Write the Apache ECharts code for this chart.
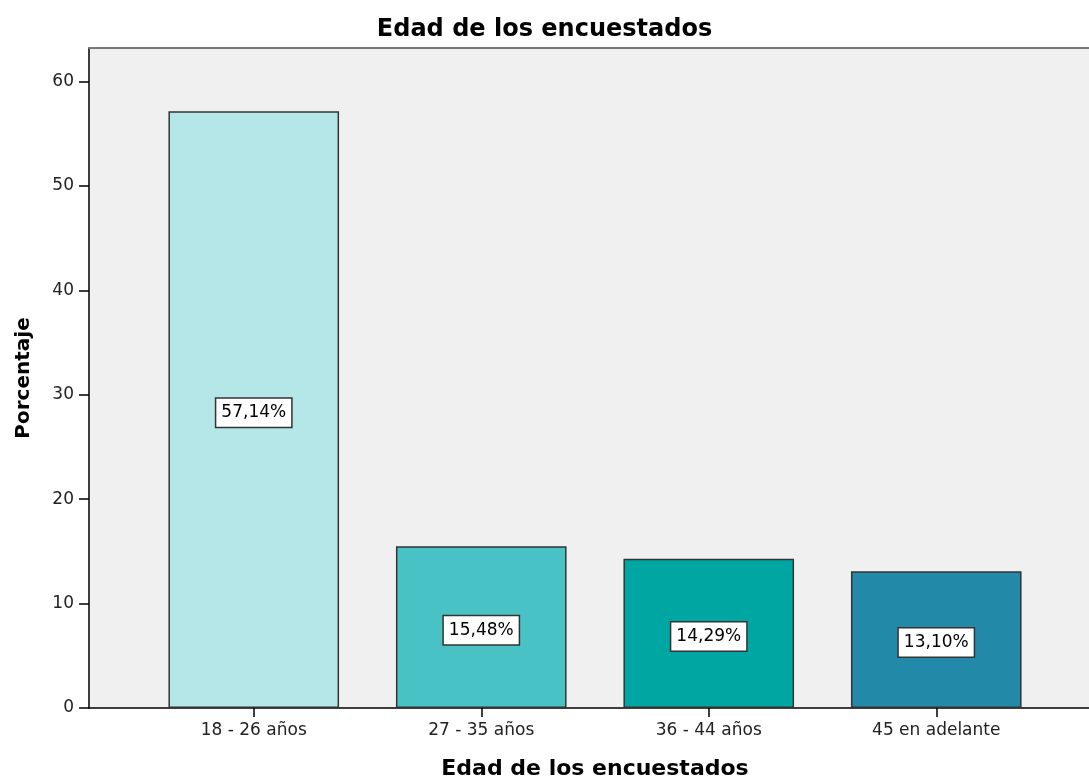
<!DOCTYPE html>
<html>
<head>
<meta charset="utf-8">
<script src="https://cdn.jsdelivr.net/npm/echarts@6/dist/echarts.min.js"></script>
<style>
  html, body { margin: 0; padding: 0; background: #fff; }
  #chart { width: 1089px; height: 778px; }
</style>
</head>
<body>
<div id="chart"></div>
<script>
const categories = ['18 - 26 años', '27 - 35 años', '36 - 44 años', '45 en adelante']
const percentages = [57.14, 15.48, 14.29, 13.10]
const barColors = ['#b5e6e8', '#48c2c5', '#00a6a2', '#2389a9']
const yTicks = { min: 0, max: 63.2, interval: 10 }

const chart = echarts.init(document.getElementById('chart'))
const font = '"DejaVu Sans", Verdana, sans-serif'

chart.setOption({
  backgroundColor: '#fff',
  animation: false,
  title: {
    text: 'Edad de los encuestados',
    left: 'center',
    top: 13,
    textStyle: { fontFamily: font, fontSize: 24, fontWeight: 'bold', color: '#000' }
  },
  grid: [
    // marco con fondo gris
    { left: 89, right: 0, top: 48, bottom: 70, show: true, backgroundColor: '#f0f0f0', borderWidth: 0, outerBoundsMode: 'none' },
    // grid interior con las barras
    { left: 140, right: 39, top: 48, bottom: 70, outerBoundsMode: 'none' }
  ],
  xAxis: [
    {
      gridIndex: 0, type: 'category', data: [''],
      axisLine: { show: true, lineStyle: { color: '#000', width: 1.5 } },
      axisTick: { show: false }, axisLabel: { show: false }
    },
    {
      gridIndex: 0, type: 'category', data: [''], position: 'top',
      axisLine: { show: true, lineStyle: { color: '#777', width: 2 } },
      axisTick: { show: false }, axisLabel: { show: false }
    },
    {
      gridIndex: 1, type: 'category', data: categories,
      axisLine: { show: false },
      axisTick: { show: true, alignWithLabel: true, length: 9, lineStyle: { color: '#000', width: 1.5 } },
      axisLabel: { margin: 14, fontFamily: font, fontSize: 17, color: '#222' },
      name: 'Edad de los encuestados',
      nameLocation: 'middle',
      nameGap: 50,
      nameTextStyle: { fontFamily: font, fontSize: 22, fontWeight: 'bold', color: '#000' }
    }
  ],
  yAxis: [
    {
      gridIndex: 0, type: 'value', min: yTicks.min, max: yTicks.max, interval: yTicks.interval,
      axisLine: { show: true, lineStyle: { color: '#000', width: 1.5 } },
      axisTick: { show: true, length: 10, lineStyle: { color: '#000', width: 1.5 } },
      splitLine: { show: false },
      axisLabel: { showMaxLabel: false, margin: 15, fontFamily: font, fontSize: 17, color: '#222' },
      name: 'Porcentaje',
      nameLocation: 'middle',
      nameRotate: 90,
      nameGap: 55,
      nameTextStyle: { fontFamily: font, fontSize: 20, fontWeight: 'bold', color: '#000' }
    },
    {
      gridIndex: 1, type: 'value', min: yTicks.min, max: yTicks.max, interval: yTicks.interval, show: false
    }
  ],
  series: [{
    type: 'bar',
    xAxisIndex: 2,
    yAxisIndex: 1,
    barWidth: '75%',
    data: percentages.map((v, i) => ({
      value: v,
      itemStyle: { color: barColors[i], borderColor: '#333', borderWidth: 1.5 }
    })),
    label: {
      show: true,
      position: 'inside',
      offset: [0, 3],
      formatter: p => p.value.toFixed(2).replace('.', ',') + '%',
      fontFamily: font,
      fontSize: 17,
      color: '#000',
      backgroundColor: '#fff',
      borderColor: '#333',
      borderWidth: 1.5,
      padding: [6, 5, 5, 5]
    }
  }]
})
</script>
</body>
</html>
